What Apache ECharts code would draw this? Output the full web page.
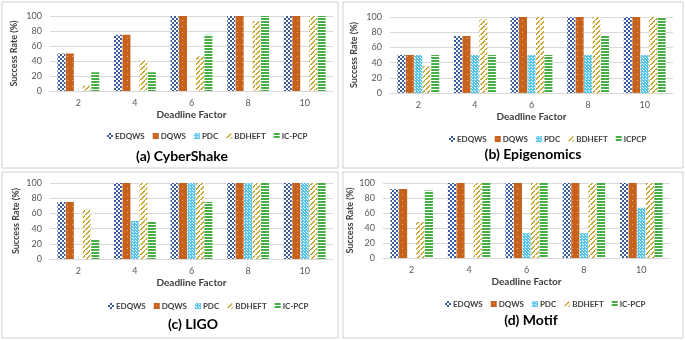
<!DOCTYPE html>
<html>
<head>
<meta charset="utf-8">
<script src="https://cdn.jsdelivr.net/npm/echarts@6/dist/echarts.min.js"></script>
<style>
  html, body { margin: 0; padding: 0; background: #fff; }
  #chart { width: 685px; height: 340px; }
</style>
</head>
<body>
<div id="chart"></div>
<script>
// deadline factors on x axis
const deadlineFactors = ['2', '4', '6', '8', '10'];
const yTicks = [0, 20, 40, 60, 80, 100];

// (a) CyberShake
const cyberEDQWS = [50, 75, 100, 100, 100];
const cyberDQWS = [50, 75, 100, 100, 100];
const cyberPDC = [0, 0, 0, 0, 0];
const cyberBDHEFT = [7, 41, 46, 93, 100];
const cyberICPCP = [25, 25, 75, 100, 100];

// (b) Epigenomics
const epiEDQWS = [50, 75, 100, 100, 100];
const epiDQWS = [50, 75, 100, 100, 100];
const epiPDC = [50, 50, 50, 50, 50];
const epiBDHEFT = [35, 97, 100, 100, 100];
const epiICPCP = [50, 50, 50, 75, 100];

// (c) LIGO
const ligoEDQWS = [75, 100, 100, 100, 100];
const ligoDQWS = [75, 100, 100, 100, 100];
const ligoPDC = [0, 50, 100, 100, 100];
const ligoBDHEFT = [65, 100, 100, 100, 100];
const ligoICPCP = [25, 50, 75, 100, 100];

// (d) Motif
const motifEDQWS = [92, 100, 100, 100, 100];
const motifDQWS = [92, 100, 100, 100, 100];
const motifPDC = [0, 0, 33, 33, 67];
const motifBDHEFT = [48, 100, 100, 100, 100];
const motifICPCP = [90, 100, 100, 100, 100];

const panelTitles = ['(a) CyberShake', '(b) Epigenomics', '(c) LIGO', '(d) Motif'];
const seriesNames = [
    ['EDQWS', 'DQWS', 'PDC', 'BDHEFT', 'IC-PCP'],
    ['EDQWS', 'DQWS', 'PDC', 'BDHEFT', 'ICPCP'],
    ['EDQWS', 'DQWS', 'PDC', 'BDHEFT', 'IC-PCP'],
    ['EDQWS', 'DQWS', 'PDC', 'BDHEFT', 'IC-PCP']
];
const panelData = [
    [cyberEDQWS, cyberDQWS, cyberPDC, cyberBDHEFT, cyberICPCP],
    [epiEDQWS, epiDQWS, epiPDC, epiBDHEFT, epiICPCP],
    [ligoEDQWS, ligoDQWS, ligoPDC, ligoBDHEFT, ligoICPCP],
    [motifEDQWS, motifDQWS, motifPDC, motifBDHEFT, motifICPCP]
];

// small canvas fill patterns
function makePattern(w, h, draw) {
    const c = document.createElement('canvas');
    c.width = w;
    c.height = h;
    draw(c.getContext('2d'));
    return { image: c, repeat: 'repeat' };
}

const patterns = [
    // checkerboard blue
    makePattern(4, 4, ctx => {
        ctx.fillStyle = '#2F5597';
        ctx.fillRect(0, 0, 4, 4);
        ctx.fillStyle = '#ffffff';
        ctx.fillRect(0, 0, 2, 2);
        ctx.fillRect(2, 2, 2, 2);
    }),
    // orange with sparse dots
    makePattern(5, 6, ctx => {
        ctx.fillStyle = '#C55A11';
        ctx.fillRect(0, 0, 5, 6);
        ctx.fillStyle = '#E9A57A';
        ctx.fillRect(2, 2, 1, 1);
    }),
    // light blue dotted
    makePattern(3, 3, ctx => {
        ctx.fillStyle = '#4FC3EE';
        ctx.fillRect(0, 0, 3, 3);
        ctx.fillStyle = '#ffffff';
        ctx.fillRect(1, 1, 1, 1);
        ctx.fillRect(0, 0, 1, 1);
    }),
    // gold diagonal stripes
    makePattern(5, 5, ctx => {
        ctx.fillStyle = '#ffffff';
        ctx.fillRect(0, 0, 5, 5);
        ctx.fillStyle = '#C9A027';
        for (let i = 0; i < 5; i++) {
            ctx.fillRect(i, 4 - i, 2, 1);
        }
    }),
    // green horizontal stripes
    makePattern(4, 3, ctx => {
        ctx.fillStyle = '#3CAA3A';
        ctx.fillRect(0, 0, 4, 3);
        ctx.fillStyle = '#ffffff';
        ctx.fillRect(0, 2, 4, 1);
    })
];

const grids = [
    { left: 50, top: 16, width: 283, height: 75 },
    { left: 390, top: 17, width: 283, height: 76 },
    { left: 50, top: 183, width: 283, height: 76 },
    { left: 383, top: 183, width: 287, height: 75 }
];
const yNameGaps = [31, 31, 29, 28];
const legendPos = [
    { left: 102, top: 127 },
    { left: 444, top: 130 },
    { left: 103, top: 297 },
    { left: 440, top: 295 }
];
const titlePos = [
    { left: 177, top: 144 },
    { left: 528, top: 142 },
    { left: 188, top: 312 },
    { left: 526, top: 308 }
];
const boxes = [
    [2, 2, 336, 166],
    [343, 2, 340, 166],
    [2, 172, 336, 166],
    [343, 172, 340, 166]
];

const fontFamily = 'Lato, "Open Sans", sans-serif';
const chart = echarts.init(document.getElementById('chart'));

const series = [];
panelData.forEach((rows, p) => {
    rows.forEach((vals, s) => {
        series.push({
            name: seriesNames[p][s],
            type: 'bar',
            xAxisIndex: p,
            yAxisIndex: p,
            data: vals,
            barCategoryGap: '26%',
            barGap: '6%',
            itemStyle: {
                color: patterns[s],
                opacity: 0.95
            },
            emphasis: { disabled: true },
            animation: false
        });
    });
});

const option = {
    animation: false,
    textStyle: { fontFamily: fontFamily },
    graphic: boxes.map(b => ({
        type: 'rect',
        shape: { x: b[0], y: b[1], width: b[2], height: b[3] },
        style: { fill: 'none', stroke: '#D0D0D0', lineWidth: 1 },
        silent: true
    })),
    title: panelTitles.map((t, i) => ({
        text: t,
        left: titlePos[i].left,
        top: titlePos[i].top,
        textAlign: 'center',
        textStyle: { fontFamily: fontFamily, fontSize: 14, fontWeight: 'bold', color: '#000' }
    })),
    legend: seriesNames.map((names, i) => ({
        data: names,
        left: legendPos[i].left,
        top: legendPos[i].top,
        width: 230,
        orient: 'horizontal',
        itemWidth: 6,
        itemHeight: 6,
        itemGap: 8,
        icon: 'rect',
        textStyle: { fontFamily: fontFamily, fontSize: 8, fontWeight: 'bold', color: '#404040', padding: [0, 0, 0, -3] },
        selectedMode: false
    })),
    grid: grids,
    xAxis: grids.map((g, i) => ({
        type: 'category',
        gridIndex: i,
        data: deadlineFactors,
        name: 'Deadline Factor',
        nameLocation: 'middle',
        nameGap: 19,
        nameTextStyle: { fontFamily: fontFamily, fontSize: 10, fontWeight: 'bold', color: '#404040' },
        axisLine: { show: true, lineStyle: { color: '#D9D9D9' } },
        axisTick: { show: false },
        axisLabel: { fontSize: 9, color: '#595959', margin: 8 }
    })),
    yAxis: grids.map((g, i) => ({
        type: 'value',
        gridIndex: i,
        min: yTicks[0],
        max: yTicks[yTicks.length - 1],
        interval: 20,
        name: 'Success Rate (%)',
        nameLocation: 'middle',
        nameGap: yNameGaps[i],
        nameTextStyle: { fontFamily: fontFamily, fontSize: 9, fontWeight: 'bold', color: '#404040' },
        axisLine: { show: false },
        axisTick: { show: false },
        axisLabel: { fontSize: 9, color: '#595959', margin: 8 },
        splitLine: { lineStyle: { color: '#D9D9D9' } }
    })),
    series: series
};

chart.setOption(option);
</script>
</body>
</html>
